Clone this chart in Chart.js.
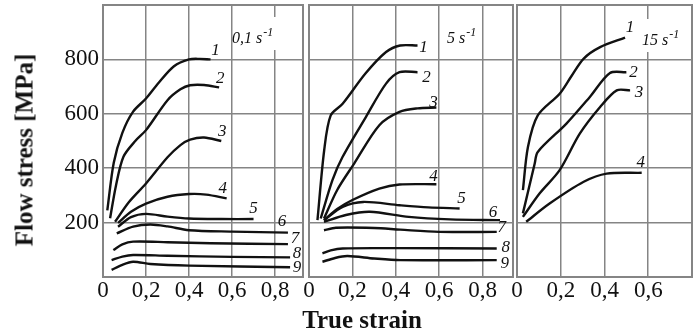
<!DOCTYPE html>
<html>
<head>
<meta charset="utf-8">
<script src="https://cdn.jsdelivr.net/npm/chart.js@4/dist/chart.umd.min.js"></script>
<style>
  html, body { margin: 0; padding: 0; background: #fff; }
  #wrap { position: relative; width: 694px; height: 334px; overflow: hidden; font-family: "Liberation Serif", serif; color: #111; }
  canvas { position: absolute; top: 0; }
  #ytitle { position: absolute; left: 24px; top: 150px; transform: translate(-50%, -50%) rotate(-90deg);
            font-weight: bold; font-size: 25px; line-height: 1; white-space: nowrap; }
  #xtitle { position: absolute; left: 362px; top: 307px; transform: translateX(-50%);
            font-weight: bold; font-size: 25px; line-height: 1; white-space: nowrap; }
</style>
</head>
<body>
<div id="wrap">
  <canvas id="c1" width="305" height="334" style="left:0px"></canvas>
  <canvas id="c2" width="219" height="334" style="left:296px"></canvas>
  <canvas id="c3" width="190" height="334" style="left:504px"></canvas>
  <div id="ytitle">Flow stress [MPa]</div>
  <div id="xtitle">True strain</div>
</div>
<script>
// ---- strain rate 0,1 1/s ----
const strain01 = [
  [0.02, 0.05, 0.09, 0.14, 0.2, 0.26, 0.33, 0.4, 0.45, 0.5],
  [0.033, 0.06, 0.095, 0.15, 0.2, 0.3, 0.36, 0.405, 0.47, 0.54],
  [0.056, 0.12, 0.2, 0.3, 0.36, 0.405, 0.47, 0.55],
  [0.07, 0.13, 0.2, 0.3, 0.4, 0.48, 0.575],
  [0.07, 0.13, 0.2, 0.3, 0.4, 0.55, 0.7],
  [0.064, 0.14, 0.22, 0.3, 0.4, 0.6, 0.86],
  [0.048, 0.09, 0.14, 0.3, 0.5, 0.86],
  [0.04, 0.09, 0.14, 0.3, 0.6, 0.87],
  [0.04, 0.09, 0.14, 0.22, 0.4, 0.87]
];
const stress01 = [
  [245, 420, 530, 608, 656, 715, 775, 800, 802, 800],
  [216, 335, 442, 500, 540, 650, 690, 705, 706, 697],
  [203, 275, 344, 440, 485, 505, 513, 500],
  [199, 240, 270, 295, 305, 303, 289],
  [185, 220, 232, 222, 215, 213, 213],
  [160, 185, 193, 186, 172, 167, 163],
  [99, 120, 130, 128, 124, 121],
  [62, 75, 81, 78, 74, 72],
  [26, 45, 56, 48, 42, 36]
];

// ---- strain rate 5 1/s ----
const strain5 = [
  [0.039, 0.07, 0.1, 0.155, 0.26, 0.355, 0.42, 0.5],
  [0.054, 0.108, 0.155, 0.262, 0.355, 0.417, 0.5],
  [0.069, 0.13, 0.208, 0.324, 0.417, 0.5, 0.587],
  [0.069, 0.13, 0.2, 0.324, 0.417, 0.587],
  [0.069, 0.155, 0.25, 0.417, 0.55, 0.694],
  [0.069, 0.17, 0.28, 0.46, 0.65, 0.88],
  [0.069, 0.124, 0.3, 0.42, 0.6, 0.865],
  [0.062, 0.1, 0.155, 0.4, 0.865],
  [0.062, 0.12, 0.177, 0.3, 0.42, 0.865]
];
const stress5 = [
  [209, 466, 594, 637, 748, 827, 851, 851],
  [215, 356, 442, 588, 711, 753, 753],
  [215, 320, 417, 558, 607, 620, 623],
  [209, 250, 283, 325, 340, 341],
  [209, 258, 276, 264, 256, 252],
  [203, 228, 240, 221, 212, 209],
  [172, 181, 180, 174, 166, 166],
  [87, 98, 105, 106, 105],
  [56, 70, 77, 68, 62, 62]
];

// ---- strain rate 15 1/s ----
const strain15 = [
  [0.027, 0.05, 0.095, 0.195, 0.25, 0.305, 0.38, 0.494],
  [0.027, 0.081, 0.095, 0.226, 0.333, 0.425, 0.5],
  [0.027, 0.103, 0.195, 0.287, 0.38, 0.456, 0.517],
  [0.042, 0.149, 0.305, 0.41, 0.57]
];
const stress15 = [
  [319, 478, 594, 674, 740, 803, 845, 880],
  [234, 417, 460, 564, 662, 750, 753],
  [221, 307, 393, 527, 625, 686, 686],
  [203, 270, 350, 380, 383]
];

const curveNames = ['1', '2', '3', '4', '5', '6', '7', '8', '9'];
const stressTicks = [0, 200, 400, 600, 800, 1000];
const stressLabels = [200, 400, 600, 800];
const strainTicksWide = [0, 0.2, 0.4, 0.6, 0.8];
const strainTicksNarrow = [0, 0.2, 0.4, 0.6];

// where each curve number sits relative to the curve end (px)
const shift01 = [[5, -9], [1, -9], [1, -9], [-4, -10], [0, -11], [-6, -11], [7, -6], [7, -4], [7, 0]];
const shift5 = [[6, 2], [9, 5], [-3, -5], [-3, -8], [2, -10], [-7, -8], [5, -4], [9, -1], [8, 3]];
const shift15 = [[5, -10], [7, 0], [9, 2], [-1, -10]];

const gridGray = '#858585';
const ink = '#111';
const serif = '"Liberation Serif", "DejaVu Serif", serif';

const panels = [
  { canvas: 'c1', strain: strain01, stress: stress01, shift: shift01, xMax: 0.93, ticks: strainTicksWide,
    yWidth: 103, padLeft: 0, rate: '0,1', rateX: 129, rateY: 43 },
  { canvas: 'c2', strain: strain5, stress: stress5, shift: shift5, xMax: 0.94, ticks: strainTicksWide,
    yWidth: 0, padLeft: 13, rate: '5', rateX: 138, rateY: 43 },
  { canvas: 'c3', strain: strain15, stress: stress15, shift: shift15, xMax: 0.8, ticks: strainTicksNarrow,
    yWidth: 0, padLeft: 13, rate: '15', rateX: 125, rateY: 45 }
];

// frame, strain-rate caption and curve numbers
const panelDecor = {
  id: 'panelDecor',
  beforeDatasetsDraw(chart, args, opts) {
    const { ctx, chartArea: a } = chart;
    ctx.save();
    ctx.font = 'italic 16px ' + serif;
    const base = opts.rate + ' s';
    const w1 = ctx.measureText(base).width;
    ctx.font = 'italic 12px ' + serif;
    const w2 = ctx.measureText('-1').width;
    const x0 = a.left + opts.rateX, y0 = opts.rateY;
    ctx.fillStyle = '#fff';
    ctx.fillRect(x0 + 2, y0 - 26, w1 + w2 + 4, 33);
    ctx.fillStyle = ink;
    ctx.textBaseline = 'alphabetic';
    ctx.font = 'italic 16px ' + serif;
    ctx.fillText(base, x0, y0);
    ctx.font = 'italic 12px ' + serif;
    ctx.fillText('-1', x0 + w1 + 1, y0 - 7);

    ctx.strokeStyle = gridGray;
    ctx.lineWidth = 2;
    ctx.strokeRect(a.left, a.top, a.right - a.left, a.bottom - a.top);
    ctx.restore();
  },
  afterDatasetsDraw(chart, args, opts) {
    const { ctx } = chart;
    ctx.save();
    ctx.font = 'italic 17px ' + serif;
    ctx.fillStyle = ink;
    ctx.textAlign = 'center';
    ctx.textBaseline = 'middle';
    chart.data.datasets.forEach((ds, i) => {
      const pts = chart.getDatasetMeta(i).data;
      const end = pts[pts.length - 1];
      const s = opts.shift[i];
      ctx.fillText(ds.label, end.x + s[0], end.y + s[1]);
    });
    ctx.restore();
  }
};

const tickFont = { family: serif, size: 23 };

panels.forEach(p => {
  const datasets = p.strain.map((xs, i) => ({
    label: curveNames[i],
    data: xs.map((x, j) => ({ x: x, y: p.stress[i][j] })),
    borderColor: ink,
    borderWidth: 2.4,
    pointRadius: 0,
    fill: false,
    tension: 0.3
  }));

  new Chart(document.getElementById(p.canvas), {
    type: 'line',
    data: { datasets: datasets },
    options: {
      responsive: false,
      animation: false,
      layout: { padding: { left: p.padLeft, right: 2, top: 5, bottom: 0 } },
      plugins: {
        legend: { display: false },
        tooltip: { enabled: false },
        panelDecor: { rate: p.rate, rateX: p.rateX, rateY: p.rateY, shift: p.shift }
      },
      scales: {
        x: {
          type: 'linear',
          min: 0,
          max: p.xMax,
          afterBuildTicks: s => { s.ticks = p.ticks.map(v => ({ value: v })); },
          afterFit: s => { s.height = 57; s.paddingLeft = 0; s.paddingRight = 0; },
          grid: { color: gridGray, lineWidth: 1.5, drawTicks: false },
          border: { display: false },
          ticks: {
            padding: 0,
            color: ink,
            font: tickFont,
            autoSkip: false,
            maxRotation: 0,
            callback: v => v === 0 ? '0' : v.toFixed(1).replace('.', ',')
          }
        },
        y: {
          type: 'linear',
          min: 0,
          max: 1000,
          afterBuildTicks: s => { s.ticks = stressTicks.map(v => ({ value: v })); },
          afterFit: s => { s.width = p.yWidth; s.paddingTop = 0; s.paddingBottom = 0; },
          grid: { color: gridGray, lineWidth: 1.5, drawTicks: false },
          border: { display: false },
          ticks: {
            display: p.yWidth > 0,
            padding: 4,
            color: ink,
            font: tickFont,
            callback: v => stressLabels.includes(v) ? String(v) : ''
          }
        }
      }
    },
    plugins: [panelDecor]
  });
});
</script>
</body>
</html>
